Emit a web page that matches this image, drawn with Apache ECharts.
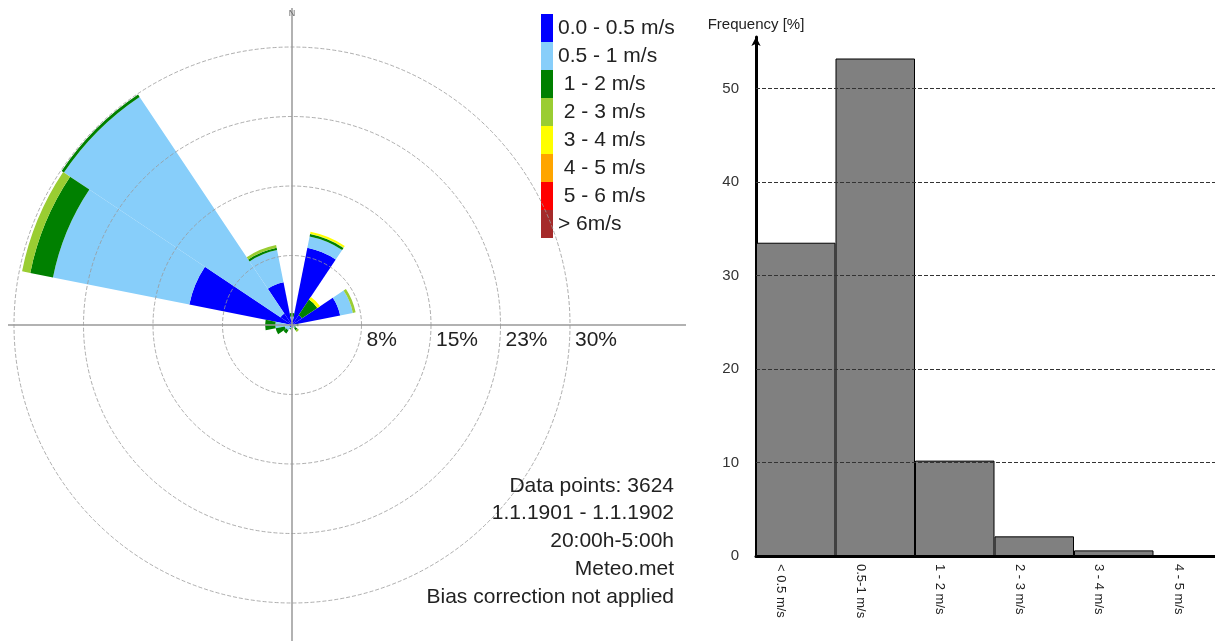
<!DOCTYPE html>
<html>
<head>
<meta charset="utf-8">
<script src="https://cdn.jsdelivr.net/npm/echarts@6/dist/echarts.min.js"></script>
<style>html,body{margin:0;padding:0;background:#fff}#c{width:1215px;height:641px}</style>
</head>
<body>
<div id="c"></div>
<script>
// ---- Wind rose data (percent of time per direction sector) ----
const directions = ['N','NNE','NE','ENE','E','ESE','SE','SSE','S','SSW','SW','WSW','W','WNW','NW','NNW'];
const speedClasses = ['0.0 - 0.5 m/s','0.5 - 1 m/s',' 1 - 2 m/s',' 2 - 3 m/s',' 3 - 4 m/s',' 4 - 5 m/s',' 5 - 6 m/s','> 6m/s'];
const speedColors = ['#0000ff','#87cefa','#008000','#9acd32','#ffff00','#ffa500','#ff0000','#a52a2a'];
const spd0_05 = [0.5, 8.5, 1.3, 5.3, 0.3, 0.2, 0.2, 0.1, 0.1, 0.2, 0.3, 0.3, 0.3, 11.3, 1.5, 4.7];
const spd05_1 = [0.4, 1.25, 0, 1.4, 0.2, 0.1, 0.2, 0.1, 0.1, 0.2, 0.4, 0.5, 1.5, 15.0, 28.1, 3.55];
const spd1_2  = [0.4, 0.25, 2.0, 0, 0.2, 0.1, 0.3, 0.1, 0.05, 0.1, 0.4, 1.0, 1.1, 2.5, 0.3, 0.25];
const spd2_3  = [0, 0.05, 0, 0.3, 0, 0, 0.2, 0, 0, 0, 0, 0, 0, 0.9, 0, 0.3];
const spd3_4  = [0, 0.2, 0.35, 0, 0, 0, 0, 0, 0, 0, 0, 0, 0, 0, 0, 0];
const spd4_5  = [0, 0, 0, 0, 0, 0, 0, 0, 0, 0, 0, 0, 0, 0, 0, 0];
const spd5_6  = [0, 0, 0, 0, 0, 0, 0, 0, 0, 0, 0, 0, 0, 0, 0, 0];
const spd6up  = [0, 0, 0, 0, 0, 0, 0, 0, 0, 0, 0, 0, 0, 0, 0, 0];
const ringMax = 30;
const ringStep = 7.5;

// ---- Histogram data ----
const histCats = ['< 0.5 m/s','0.5-1 m/s','1 - 2 m/s','2 - 3 m/s','3 - 4 m/s','4 - 5 m/s'];
const histVals = [33.5, 53.2, 10.2, 2.1, 0.6, 0.1];
const histTicks = [0, 10, 20, 30, 40, 50];
const histGrid = [10, 20, 30, 40, 50];

const infoLines = ['Data points: 3624','1.1.1901 - 1.1.1902','20:00h-5:00h','Meteo.met','Bias correction not applied'];

const FONT = "'Liberation Sans', Arial, sans-serif";
const chart = echarts.init(document.getElementById('c'), null, {renderer: 'canvas'});

const roseData = [spd0_05, spd05_1, spd1_2, spd2_3, spd3_4, spd4_5, spd5_6, spd6up];
const roseSeries = roseData.map((arr, i) => ({
  name: speedClasses[i],
  type: 'bar',
  coordinateSystem: 'polar',
  polarIndex: 0,
  stack: 'rose',
  barCategoryGap: '0%',
  data: arr,
  itemStyle: {color: speedColors[i]},
  silent: true
}));

const CX = 292, CY = 325, R = 278;

chart.setOption({
  animation: false,
  textStyle: {fontFamily: FONT},
  color: speedColors,
  polar: [
    {center: [CX, CY], radius: R},
    {center: [CX, CY], radius: R}
  ],
  angleAxis: [
    {polarIndex: 0, type: 'category', data: directions, startAngle: 90 + 11.25, clockwise: true,
     boundaryGap: true, axisLine: {show: false}, axisTick: {show: false}, axisLabel: {show: false},
     splitLine: {show: false}},
    {polarIndex: 1, type: 'value', min: 0, max: 360, startAngle: 0, show: false}
  ],
  radiusAxis: [
    {polarIndex: 0, type: 'value', min: 0, max: ringMax, show: false},
    {polarIndex: 1, type: 'value', min: 0, max: ringMax, interval: ringStep, z: 5,
     axisLine: {show: false}, axisTick: {show: false},
     axisLabel: {formatter: v => v === 0 ? '' : Math.round(v) + '%', margin: -5, verticalAlign: 'top',
                 align: 'left', padding: [0, 0, 0, 5], fontSize: 21, color: '#222', fontFamily: FONT},
     splitLine: {lineStyle: {type: [4, 2], color: '#999', width: 0.8}}}
  ],
  legend: {
    data: speedClasses, orient: 'vertical', left: 541, top: 14, padding: 0,
    itemWidth: 12, itemHeight: 28, itemGap: 0, icon: 'rect', selectedMode: false,
    textStyle: {fontSize: 21, color: '#222', fontFamily: FONT}
  },
  grid: {left: 756, top: 37, height: 519, width: 477, containLabel: false, outerBoundsMode: 'none'},
  xAxis: {
    type: 'category', data: histCats, boundaryGap: true,
    axisLine: {lineStyle: {color: '#000', width: 3}},
    axisTick: {show: false},
    axisLabel: {rotate: -90, fontSize: 13, margin: 8, lineHeight: 30, color: '#222', interval: 0,
                formatter: v => ' \n' + v}
  },
  yAxis: {
    type: 'value', min: 0, max: 55.5,
    name: 'Frequency [%]', nameLocation: 'end', nameGap: 5,
    nameTextStyle: {fontSize: 15, color: '#222', fontFamily: FONT},
    axisLine: {show: true, symbol: ['none', 'arrow'], symbolSize: [7, 9], lineStyle: {color: '#000', width: 3}},
    axisTick: {show: false},
    splitLine: {show: false},
    axisLabel: {customValues: histTicks, fontSize: 15, margin: 17, color: '#333'}
  },
  graphic: [
    {type: 'line', z: 20, silent: true, shape: {x1: 8, y1: CY, x2: 686, y2: CY}, style: {stroke: '#999', lineWidth: 1.5}},
    {type: 'line', z: 20, silent: true, shape: {x1: CX, y1: 8, x2: CX, y2: 641}, style: {stroke: '#999', lineWidth: 1.5}},
    {type: 'text', z: 20, silent: true, x: CX, y: 9, style: {text: 'N', fontSize: 9, fill: '#666', textAlign: 'center', fontFamily: FONT}},
    {type: 'text', z: 20, silent: true, x: 674, y: 472,
     style: {text: infoLines.join('\n'), fontSize: 21, lineHeight: 27.8, fill: '#222', textAlign: 'right', fontFamily: FONT}}
  ],
  series: roseSeries.concat([{
    name: 'hist', type: 'bar', xAxisIndex: 0, yAxisIndex: 0, barCategoryGap: '0%', silent: true,
    data: histVals,
    itemStyle: {color: '#808080', borderColor: '#000', borderWidth: 1},
    markLine: {silent: true, symbol: ['none', 'none'], label: {show: false},
               lineStyle: {type: [4, 2], color: '#333', width: 1},
               data: histGrid.map(v => ({yAxis: v}))}
  }])
});
</script>
</body>
</html>
